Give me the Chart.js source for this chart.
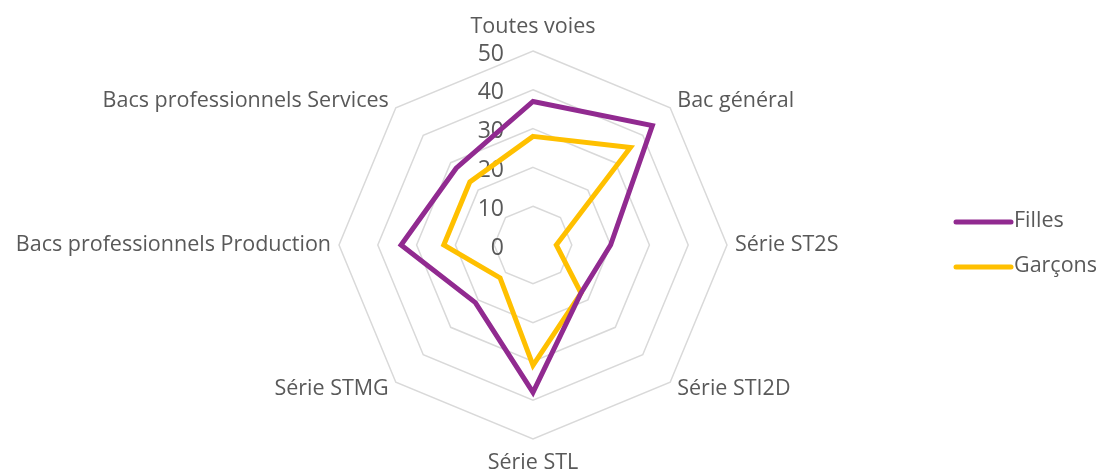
<!DOCTYPE html>
<html>
<head>
<meta charset="utf-8">
<script src="https://cdn.jsdelivr.net/npm/chart.js@4/dist/chart.umd.min.js"></script>
<style>
    html, body { margin: 0; padding: 0; background: #ffffff; }
    #wrap { width: 1101px; height: 472px; position: relative; }
</style>
</head>
<body>
<div id="wrap"><canvas id="radarGraph"></canvas></div>
<script>
    "use strict";
    const categories = [
        "Toutes voies",
        "Bac général",
        "Série ST2S",
        "Série STI2D",
        "Série STL",
        "Série STMG",
        "Bacs professionnels Production",
        "Bacs professionnels Services",
    ];
    const filles = [37, 43.5, 20, 17.5, 38, 21, 34, 28];
    const garcons = [28, 35.5, 6, 17.5, 31, 12, 23, 23];
    const tickValues = [0, 10, 20, 30, 40, 50];

    const textColor = "#595959";
    const labelFont = '21.5px "Open Sans", "Noto Sans", sans-serif';

    // tick numbers sit left of the vertical axis, like in the original
    const tickLabelsPlugin = {
        id: "tickLabels",
        beforeDatasetsDraw(chart) {
            const scale = chart.scales.r;
            const ctx = chart.ctx;
            ctx.save();
            ctx.fillStyle = textColor;
            ctx.font = '23px "Open Sans", "Noto Sans", sans-serif';
            ctx.textAlign = "right";
            ctx.textBaseline = "middle";
            tickValues.forEach(function (v) {
                const y = scale.yCenter - scale.getDistanceFromCenterForValue(v);
                ctx.fillText(String(v), scale.xCenter - 29, y + 3);
            });
            ctx.restore();
        },
        afterDraw(chart) {
            const scale = chart.scales.r;
            const ctx = chart.ctx;
            ctx.save();
            ctx.fillStyle = textColor;
            ctx.font = labelFont;
            ctx.textBaseline = "middle";
            categories.forEach(function (label, i) {
                const angle = scale.getIndexAngle(i);
                const cos = Math.sin(angle);
                const sin = -Math.cos(angle);
                let extra = 10;
                if (Math.abs(cos) < 0.01) extra = 24;
                else if (Math.abs(sin) < 0.01) extra = 8;
                const p = scale.getPointPosition(i, scale.drawingArea + extra);
                if (Math.abs(cos) < 0.01) ctx.textAlign = "center";
                else if (cos > 0) ctx.textAlign = "left";
                else ctx.textAlign = "right";
                ctx.fillText(label, p.x, p.y);
            });

            // legend on the right
            const items = chart.data.datasets;
            items.forEach(function (ds, i) {
                const y = 222 + i * 45;
                ctx.strokeStyle = ds.borderColor;
                ctx.lineWidth = 5;
                ctx.lineCap = "round";
                ctx.beginPath();
                ctx.moveTo(956, y);
                ctx.lineTo(1011, y);
                ctx.stroke();
                ctx.textAlign = "left";
                ctx.fillText(ds.label, 1014, y - 1);
            });
            ctx.restore();
        },
    };

    const data = {
        labels: categories,
        datasets: [
            {
                label: "Filles",
                data: filles,
                borderColor: "#912a90",
                backgroundColor: "#912a90",
                borderWidth: 5,
                fill: false,
                pointRadius: 0,
            },
            {
                label: "Garçons",
                data: garcons,
                borderColor: "#ffc000",
                backgroundColor: "#ffc000",
                borderWidth: 5,
                fill: false,
                pointRadius: 0,
            },
        ],
    };

    const config = {
        type: "radar",
        data: data,
        options: {
            responsive: true,
            maintainAspectRatio: false,
            animation: false,
            layout: {
                padding: { top: 51, bottom: 33, left: 0, right: 35 },
            },
            elements: {
                line: { tension: 0 },
            },
            plugins: {
                legend: { display: false },
                tooltip: { enabled: false },
            },
            scales: {
                r: {
                    min: 0,
                    max: 50,
                    ticks: { stepSize: 10, display: false },
                    pointLabels: { display: false },
                    angleLines: { display: false },
                    grid: { color: "#d9d9d9", lineWidth: 1.5 },
                },
            },
        },
        plugins: [tickLabelsPlugin],
    };

    new Chart(document.getElementById("radarGraph"), config);
</script>
</body>
</html>
